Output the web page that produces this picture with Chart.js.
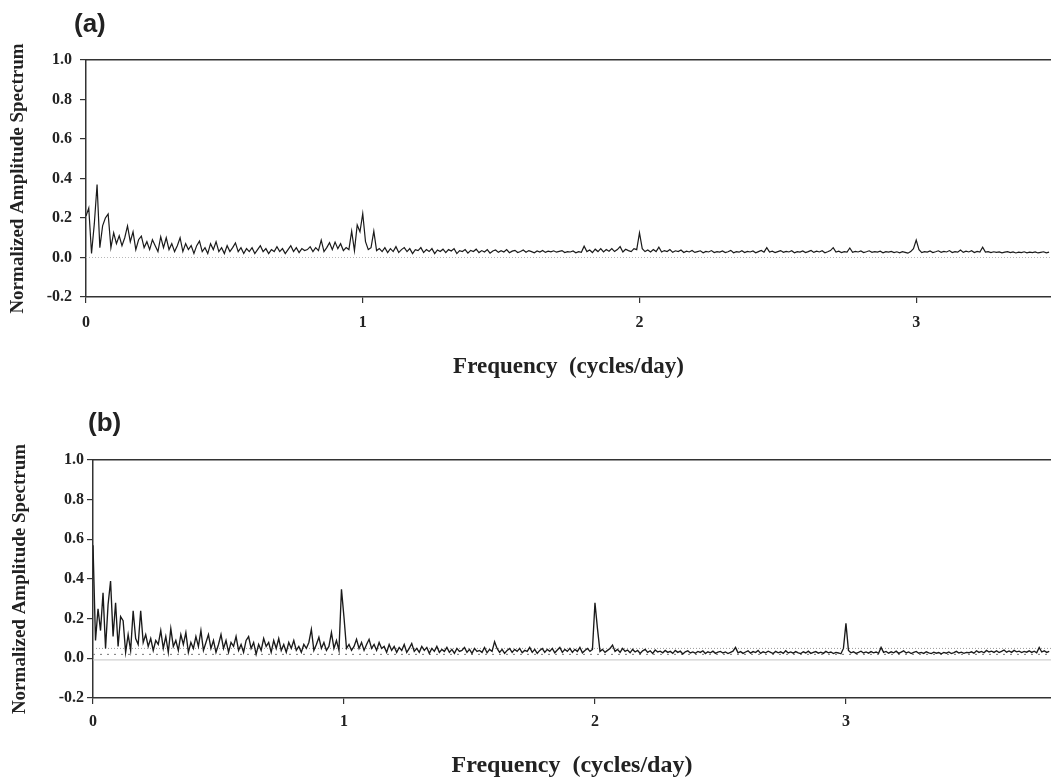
<!DOCTYPE html>
<html>
<head>
<meta charset="utf-8">
<script src="https://cdn.jsdelivr.net/npm/chart.js@4.4.0/dist/chart.umd.min.js"></script>
<style>
html,body{margin:0;padding:0;background:#fff;overflow:hidden;width:1051px;height:780px;}
canvas{position:absolute;left:0;}
.lab{position:absolute;z-index:2;font-family:"Liberation Sans",Arial,sans-serif;font-weight:bold;font-size:26px;line-height:1;color:#222;}
</style>
</head>
<body>
<canvas id="ca" style="top:0px" width="1051" height="395"></canvas>
<canvas id="cb" style="top:395px" width="1051" height="385"></canvas>
<div class="lab" style="left:74px;top:10px">(a)</div>
<div class="lab" style="left:88px;top:409px">(b)</div>
<script>
// ---------- data ----------
const freqStep = 0.01;            // cycles/day between spectral estimates
const xTickLabels = [0, 1, 2, 3];
const yTickLabels = [-0.2, 0.0, 0.2, 0.4, 0.6, 0.8, 1.0];
const xMaxA = 3.487;
const xMaxB = 3.817;

// panel (a) amplitude spectrum, f = 0.00 .. 3.48
const ampA = [
0.21,0.25,0.02,0.17,0.37,0.05,0.16,0.20,0.22,0.05,
0.125,0.07,0.11,0.06,0.10,0.16,0.08,0.13,0.04,0.09,
0.108,0.05,0.08,0.04,0.09,0.06,0.03,0.105,0.05,0.10,
0.04,0.07,0.03,0.06,0.10,0.03,0.07,0.04,0.06,0.02,
0.06,0.083,0.03,0.05,0.02,0.07,0.04,0.08,0.03,0.05,
0.02,0.06,0.03,0.05,0.074,0.03,0.05,0.02,0.045,0.03,
0.05,0.02,0.04,0.06,0.03,0.045,0.02,0.04,0.03,0.055,
0.03,0.045,0.02,0.04,0.06,0.03,0.05,0.025,0.045,0.035,
0.04,0.055,0.03,0.05,0.035,0.088,0.03,0.05,0.075,0.04,
0.078,0.045,0.07,0.035,0.05,0.04,0.133,0.035,0.165,0.13,
0.222,0.08,0.04,0.05,0.133,0.035,0.045,0.03,0.05,0.025,
0.045,0.03,0.055,0.025,0.04,0.05,0.03,0.045,0.02,0.04,
0.035,0.05,0.025,0.04,0.03,0.045,0.02,0.038,0.03,0.042,
0.025,0.04,0.033,0.045,0.02,0.035,0.03,0.04,0.022,0.036,
0.03,0.042,0.025,0.035,0.028,0.04,0.022,0.033,0.038,0.026,
0.034,0.028,0.04,0.024,0.032,0.036,0.025,0.03,0.038,0.027,
0.035,0.03,0.024,0.033,0.028,0.036,0.026,0.032,0.029,0.034,
0.027,0.031,0.035,0.025,0.03,0.028,0.033,0.024,0.03,0.026,
0.057,0.03,0.038,0.025,0.042,0.03,0.045,0.028,0.04,0.032,
0.045,0.03,0.04,0.055,0.028,0.042,0.035,0.03,0.045,0.04,
0.125,0.045,0.03,0.038,0.028,0.04,0.03,0.052,0.028,0.035,
0.03,0.04,0.026,0.034,0.03,0.038,0.025,0.032,0.028,0.036,
0.026,0.03,0.034,0.024,0.031,0.028,0.035,0.025,0.03,0.027,
0.033,0.025,0.029,0.036,0.024,0.03,0.027,0.034,0.025,0.031,
0.028,0.033,0.024,0.03,0.036,0.027,0.05,0.028,0.032,0.025,
0.03,0.035,0.026,0.031,0.028,0.034,0.024,0.03,0.027,0.033,
0.025,0.03,0.036,0.026,0.032,0.028,0.034,0.024,0.029,0.035,
0.05,0.028,0.032,0.025,0.03,0.027,0.048,0.026,0.031,0.028,
0.033,0.025,0.029,0.034,0.026,0.03,0.027,0.032,0.024,0.03,
0.027,0.031,0.025,0.029,0.024,0.03,0.026,0.022,0.03,0.045,
0.088,0.04,0.025,0.03,0.027,0.033,0.025,0.029,0.034,0.026,
0.031,0.028,0.035,0.025,0.03,0.027,0.038,0.026,0.032,0.028,
0.034,0.025,0.031,0.028,0.052,0.027,0.03,0.025,0.029,0.026,
0.028,0.024,0.027,0.03,0.025,0.028,0.023,0.027,0.025,0.029,
0.024,0.027,0.025,0.028,0.023,0.026,0.029,0.024,0.027
];

// panel (b) amplitude spectrum, f = 0.00 .. 3.81
const ampB = [
0.57,0.09,0.25,0.14,0.33,0.05,0.27,0.39,0.11,0.28,
0.06,0.21,0.19,0.03,0.12,0.04,0.24,0.10,0.07,0.24,
0.08,0.12,0.06,0.10,0.04,0.09,0.07,0.14,0.05,0.11,
0.03,0.15,0.06,0.09,0.04,0.12,0.07,0.13,0.03,0.08,
0.05,0.11,0.06,0.14,0.04,0.08,0.12,0.05,0.09,0.03,
0.07,0.12,0.05,0.09,0.03,0.08,0.06,0.11,0.04,0.07,
0.03,0.09,0.11,0.05,0.08,0.02,0.07,0.04,0.10,0.06,
0.08,0.03,0.09,0.05,0.10,0.04,0.07,0.03,0.08,0.05,
0.09,0.04,0.06,0.03,0.07,0.05,0.08,0.146,0.04,0.07,
0.106,0.05,0.08,0.04,0.06,0.13,0.05,0.09,0.04,0.348,
0.207,0.05,0.07,0.04,0.06,0.096,0.05,0.08,0.04,0.07,
0.096,0.05,0.07,0.04,0.08,0.05,0.06,0.03,0.07,0.04,
0.06,0.03,0.055,0.04,0.07,0.03,0.05,0.075,0.035,0.05,
0.03,0.06,0.04,0.055,0.025,0.05,0.035,0.06,0.03,0.045,
0.035,0.055,0.03,0.045,0.025,0.05,0.035,0.04,0.055,0.03,
0.045,0.025,0.05,0.035,0.04,0.03,0.055,0.028,0.045,0.035,
0.084,0.05,0.03,0.045,0.025,0.04,0.05,0.03,0.045,0.035,
0.05,0.028,0.04,0.035,0.055,0.03,0.045,0.025,0.04,0.05,
0.03,0.045,0.035,0.05,0.028,0.042,0.055,0.03,0.045,0.035,
0.05,0.03,0.045,0.035,0.055,0.028,0.04,0.05,0.035,0.045,
0.28,0.15,0.035,0.045,0.03,0.04,0.05,0.067,0.035,0.045,
0.03,0.05,0.035,0.042,0.028,0.045,0.032,0.04,0.025,0.038,
0.045,0.03,0.038,0.025,0.042,0.032,0.036,0.028,0.04,0.03,
0.035,0.025,0.04,0.03,0.036,0.022,0.033,0.038,0.027,0.032,
0.026,0.035,0.03,0.038,0.024,0.033,0.028,0.036,0.025,0.031,
0.035,0.027,0.032,0.024,0.03,0.036,0.055,0.028,0.034,0.025,
0.032,0.038,0.026,0.034,0.029,0.04,0.025,0.033,0.028,0.036,
0.03,0.024,0.035,0.028,0.033,0.025,0.038,0.027,0.032,0.026,
0.034,0.028,0.024,0.033,0.027,0.036,0.025,0.03,0.034,0.026,
0.031,0.025,0.035,0.028,0.032,0.024,0.03,0.027,0.023,0.05,
0.176,0.04,0.028,0.033,0.025,0.03,0.036,0.027,0.032,0.026,
0.034,0.028,0.032,0.025,0.055,0.03,0.035,0.026,0.033,0.028,
0.036,0.025,0.031,0.038,0.027,0.032,0.024,0.03,0.035,0.026,
0.03,0.025,0.033,0.028,0.024,0.031,0.026,0.029,0.023,0.03,
0.026,0.032,0.024,0.029,0.035,0.027,0.031,0.025,0.03,0.028,
0.033,0.026,0.038,0.03,0.035,0.028,0.04,0.032,0.036,0.03,
0.038,0.029,0.035,0.042,0.031,0.037,0.03,0.04,0.033,0.036,
0.029,0.035,0.031,0.038,0.03,0.036,0.028,0.055,0.032,0.038,
0.03,0.035
];

// reference levels drawn as thin dotted lines
const refLevelsA = [0.0];
const refLevelsB = [0.05, 0.02, -0.008];
// ---------- end data ----------

const SERIF = '"Liberation Serif","Times New Roman",serif';
const INK = '#222';

function refDataset(level, xMax, style) {
  return {
    data: [{x: 0, y: level}, {x: xMax, y: level}],
    borderColor: style.color, borderWidth: 1, borderDash: style.dash,
    pointRadius: 0, tension: 0, order: 2
  };
}

function makeChart(id, amps, xMax, refLevels, refStyles, g) {
  const pts = amps.map((v, i) => ({x: Math.round(i * freqStep * 100) / 100, y: v}));
  const ds = [{
    data: pts, borderColor: '#1a1a1a', borderWidth: g.lineW,
    pointRadius: 0, tension: 0, order: 0, borderJoinStyle: 'miter'
  }];
  refLevels.forEach((lv, k) => ds.push(refDataset(lv, xMax, refStyles[k])));
  return new Chart(document.getElementById(id), {
    type: 'line',
    data: {datasets: ds},
    options: {
      responsive: false, animation: false, events: [],
      layout: {padding: {top: g.top, left: 0, right: 0, bottom: 0}},
      plugins: {legend: {display: false}, tooltip: {enabled: false}, title: {display: false}},
      scales: {
        x: {
          type: 'linear', position: 'bottom', min: 0, max: xMax,
          afterBuildTicks: s => { s.ticks = xTickLabels.map(v => ({value: v})); },
          ticks: {
            autoSkip: false, maxRotation: 0, color: INK, padding: g.xTickPad,
            font: {family: SERIF, weight: 'bold', size: g.tickFont},
            callback: v => String(v)
          },
          grid: {drawOnChartArea: false, drawTicks: true, tickLength: 6, color: '#333', lineWidth: 1.2},
          border: {display: true, color: '#333', width: 1.5},
          title: {
            display: true, text: 'Frequency  (cycles/day)', color: INK,
            font: {family: SERIF, weight: 'bold', size: g.xTitleFont},
            padding: {top: 0, bottom: g.xTitlePad}
          },
          afterFit: s => { s.height = g.xH; }
        },
        xTop: {
          type: 'linear', position: 'top', min: 0, max: xMax, display: true,
          ticks: {display: false}, grid: {display: false},
          border: {display: true, color: '#333', width: 1.5},
          afterFit: s => { s.height = 0; }
        },
        y: {
          type: 'linear', min: -0.2, max: 1.0,
          afterBuildTicks: s => { s.ticks = yTickLabels.map(v => ({value: v})); },
          ticks: {
            color: INK, padding: g.yTickPad,
            font: {family: SERIF, weight: 'bold', size: g.tickFont},
            callback: v => Number(v).toFixed(1)
          },
          grid: {drawOnChartArea: false, drawTicks: true, tickLength: 6, color: '#333', lineWidth: 1.2},
          border: {display: true, color: '#333', width: 1.5},
          title: {
            display: true, text: 'Normalized Amplitude Spectrum', color: INK,
            font: {family: SERIF, weight: 'bold', size: 19},
            padding: {top: g.yTitlePad, bottom: 0}
          },
          afterFit: s => { s.width = g.left; }
        }
      }
    }
  });
}

makeChart('ca', ampA, xMaxA, refLevelsA,
  [{color: '#b8b8b8', dash: [1, 2]}],
  {top: 60, left: 86, xH: 98, tickFont: 16, xTickPad: 10, yTickPad: 8,
   xTitleFont: 23, xTitlePad: 14, yTitlePad: 7, lineW: 1.2});

makeChart('cb', ampB, xMaxB, refLevelsB,
  [{color: '#9a9a9a', dash: [1, 2]}, {color: '#777', dash: [2, 5]}, {color: '#c4c4c4', dash: []}],
  {top: 65, left: 93, xH: 82, tickFont: 16, xTickPad: 8, yTickPad: 3,
   xTitleFont: 24, xTitlePad: 0, yTitlePad: 9, lineW: 1.35});
</script>
</body>
</html>
